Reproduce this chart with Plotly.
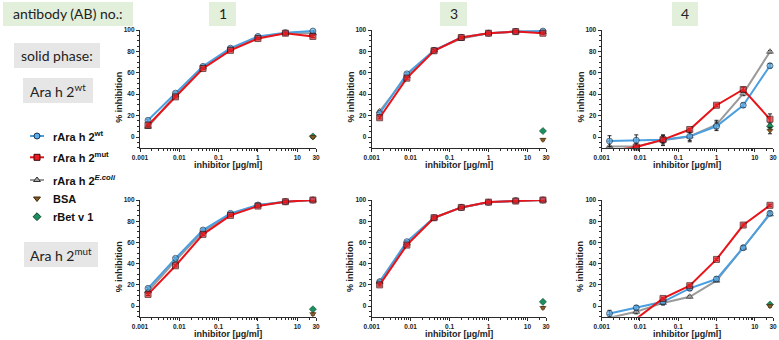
import math
import plotly.graph_objects as go

W, H = 779, 340

# ---------------- data ----------------
conc = [0.0016, 0.008, 0.04, 0.2, 1, 5, 25]
ctrl_conc = [25]

x_tick_vals = [0.001, 0.01, 0.1, 1, 10, 30]
x_tick_text = ["0.001", "0.01", "0.1", "1", "10", "30"]
y_tick_vals = [0, 20, 40, 60, 80, 100]

col_titles = ["1", "3", "4"]

# solid phase Ara h 2wt
ab1_wt_rwt = [15.6, 41, 66, 83, 94, 97.5, 99]
ab1_wt_rmut = [11, 37.5, 64, 81, 92, 97, 94]
ab1_wt_recoli = [9.5, 39, 65, 82, 93, 97, 97]
ab1_wt_bsa = [0]
ab1_wt_bet = [0.5]

ab3_wt_rwt = [22, 59, 81, 93, 97, 98.5, 99]
ab3_wt_rmut = [18, 55, 80.6, 93, 97, 98.5, 97]
ab3_wt_recoli = [24, 57, 81, 92, 97, 98.5, 98]
ab3_wt_bsa = [-2.5]
ab3_wt_bet = [5.6]

ab4_wt_rwt = [-3.8, -3, -2.5, 0.6, 10, 29.7, 66.6]
ab4_wt_rmut = [-13, -9.4, -2.5, 7, 29.7, 44.4, 16.6]
ab4_wt_recoli = [-8.8, -8.8, -3, 0.5, 11.6, 40.6, 79.7]
ab4_wt_bsa = [6]
ab4_wt_bet = [10]

# solid phase Ara h 2mut
ab1_mut_rwt = [16.7, 45, 71.7, 87.4, 95.3, 98.4, 100]
ab1_mut_rmut = [11, 38, 67.6, 85.5, 94.3, 98.4, 100]
ab1_mut_recoli = [14, 43, 70, 86.5, 95, 98.4, 100]
ab1_mut_bsa = [-7.5]
ab1_mut_bet = [-3]

ab3_mut_rwt = [23, 60.7, 83.3, 93, 97.8, 99.4, 100]
ab3_mut_rmut = [20, 57.5, 83.3, 93, 98, 99, 100]
ab3_mut_recoli = [23, 59, 83, 93, 97.8, 99.2, 100]
ab3_mut_bsa = [-1.6]
ab3_mut_bet = [4]

ab4_mut_rwt = [-7, -1.6, 4, 16.7, 25.5, 55, 87.4]
ab4_mut_rmut = [-25, -12, 7.2, 19.2, 44, 76.4, 95]
ab4_mut_recoli = [-11, -5.3, 3, 8.8, 24, 55, 86.5]
ab4_mut_bsa = [0]
ab4_mut_bet = [1.5]

# error bars (SD)
err_small = [1, 1, 1, 1, 1, 1, 1]
ab4_wt_rwt_err = [5, 5, 4, 4, 4, 2, 2]
ab4_wt_rmut_err = [1, 1, 2, 1, 1, 2, 5]
ab4_wt_recoli_err = [5, 3, 5, 5, 4, 2, 1]
ab4_wt_ctrl_err = [3]
ab4_mut_rwt_err = [3, 2, 2, 2, 2, 2, 2]
ab4_mut_rmut_err = [1, 1, 1, 1, 1, 1, 1]
ab4_mut_recoli_err = [3, 2, 2, 1, 1, 1, 1]
ctrl_err_small = [1]

panels = [
    (ab1_wt_rwt, ab1_wt_rmut, ab1_wt_recoli, ab1_wt_bsa, ab1_wt_bet, err_small, err_small, err_small, ctrl_err_small),
    (ab3_wt_rwt, ab3_wt_rmut, ab3_wt_recoli, ab3_wt_bsa, ab3_wt_bet, err_small, err_small, err_small, ctrl_err_small),
    (ab4_wt_rwt, ab4_wt_rmut, ab4_wt_recoli, ab4_wt_bsa, ab4_wt_bet, ab4_wt_rwt_err, ab4_wt_rmut_err, ab4_wt_recoli_err, ab4_wt_ctrl_err),
    (ab1_mut_rwt, ab1_mut_rmut, ab1_mut_recoli, ab1_mut_bsa, ab1_mut_bet, err_small, err_small, err_small, ctrl_err_small),
    (ab3_mut_rwt, ab3_mut_rmut, ab3_mut_recoli, ab3_mut_bsa, ab3_mut_bet, err_small, err_small, err_small, ctrl_err_small),
    (ab4_mut_rwt, ab4_mut_rmut, ab4_mut_recoli, ab4_mut_bsa, ab4_mut_bet, ab4_mut_rwt_err, ab4_mut_rmut_err, ab4_mut_recoli_err, ctrl_err_small),
]

# ---------------- styles ----------------
Y_MIN, Y_MAX = -10, 100
BLUE_LINE, BLUE_FILL, BLUE_EDGE = "#4A9FE0", "#5BAEE8", "#1D3550"
RED_LINE, RED_FILL, RED_EDGE = "#E8141A", "#EE1C22", "#3A0808"
GRAY_LINE, GRAY_FILL, GRAY_EDGE = "#9A9A9A", "#A8A8A8", "#303030"
BSA_FILL, BSA_EDGE = "#8C5A22", "#3A2508"
BET_FILL, BET_EDGE = "#1D8F5E", "#0B3D26"
AXC = "#2A2A2A"
TXT_FONT = "Liberation Sans"
BOX_FONT = "Lato"
MS = 6

col_px = [(140, 316), (371.7, 546), (601.7, 773)]
row_px = [(30, 147.7), (200, 316.7)]


def px_x(x):
    return x / W


def px_y(y):
    return 1 - y / H


fig = go.Figure()
layout = dict(
    width=W, height=H, margin=dict(l=0, r=0, t=0, b=0, autoexpand=False),
    paper_bgcolor="white", plot_bgcolor="rgba(0,0,0,0)", showlegend=False,
    shapes=[], annotations=[],
)

minor_x = [k * 10 ** e for e in range(-3, 1) for k in range(2, 10)] + [20]


def sizes(vals, s):
    return [s if v >= Y_MIN else 0 for v in vals]


def eb(arr):
    return dict(type="data", array=arr, visible=True, color="#222", thickness=1, width=2)


title_font = dict(family=TXT_FONT, size=9, color="#222", weight="bold")
tick_font = dict(family=TXT_FONT, size=6.5, color="#222", weight="bold")

for i, p in enumerate(panels):
    r, c = divmod(i, 3)
    n = i + 1
    xa = "x" if n == 1 else f"x{n}"
    ya = "y" if n == 1 else f"y{n}"
    (x0, x1), (y0, y1) = col_px[c], row_px[r]
    rwt, rmut, recoli, bsa, bet, e_wt, e_mut, e_col, e_ctrl = p

    fig.add_trace(go.Scatter(
        x=conc, y=recoli, mode="lines+markers", xaxis=xa, yaxis=ya, cliponaxis=False,
        line=dict(color=GRAY_LINE, width=2),
        marker=dict(symbol="triangle-up", size=sizes(recoli, MS), color=GRAY_FILL, line=dict(color=GRAY_EDGE, width=1)),
        error_y=eb(e_col)))
    fig.add_trace(go.Scatter(
        x=conc, y=rwt, mode="lines+markers", xaxis=xa, yaxis=ya, cliponaxis=False,
        line=dict(color=BLUE_LINE, width=2),
        marker=dict(symbol="circle", size=sizes(rwt, MS), color=BLUE_FILL, line=dict(color=BLUE_EDGE, width=1)),
        error_y=eb(e_wt)))
    fig.add_trace(go.Scatter(
        x=conc, y=rmut, mode="lines+markers", xaxis=xa, yaxis=ya, cliponaxis=False,
        line=dict(color=RED_LINE, width=2),
        marker=dict(symbol="square", size=sizes(rmut, MS), color=RED_FILL, line=dict(color=RED_EDGE, width=1)),
        error_y=eb(e_mut)))
    fig.add_trace(go.Scatter(
        x=ctrl_conc, y=bet, mode="markers", xaxis=xa, yaxis=ya, cliponaxis=False,
        marker=dict(symbol="diamond", size=5.5, color=BET_FILL, line=dict(color=BET_EDGE, width=0.5)),
        error_y=eb(e_ctrl)))
    fig.add_trace(go.Scatter(
        x=ctrl_conc, y=bsa, mode="markers", xaxis=xa, yaxis=ya, cliponaxis=False,
        marker=dict(symbol="triangle-down", size=5.5, color=BSA_FILL, line=dict(color=BSA_EDGE, width=0.5)),
        error_y=eb(e_ctrl)))

    kx = "xaxis" if n == 1 else f"xaxis{n}"
    ky = "yaxis" if n == 1 else f"yaxis{n}"
    layout[kx] = dict(
        domain=[px_x(x0), px_x(x1)], anchor=ya, type="log",
        range=[-3, math.log10(30)], showgrid=False, zeroline=False,
        showline=True, linecolor=AXC, linewidth=1.3,
        ticks="outside", ticklen=3, tickwidth=1, tickcolor=AXC,
        tickvals=x_tick_vals, ticktext=x_tick_text, tickfont=tick_font,
        minor=dict(tickvals=minor_x, ticks="outside", ticklen=2, tickwidth=0.8, tickcolor=AXC),
        automargin=False,
    )
    layout[ky] = dict(
        domain=[px_y(y1), px_y(y0)], anchor=xa,
        range=[Y_MIN, Y_MAX], showgrid=False, zeroline=False,
        showline=True, linecolor=AXC, linewidth=1.3,
        ticks="outside", ticklen=3, tickwidth=1, tickcolor=AXC,
        tickvals=y_tick_vals, tickfont=tick_font,
        minor=dict(dtick=5, ticks="outside", ticklen=2, tickwidth=0.8, tickcolor=AXC),
        automargin=False,
    )
    layout["annotations"].append(dict(
        text="% inhibition", xref="paper", yref="paper", x=px_x(x0 - 21), y=px_y((y0 + y1) / 2 + 8),
        textangle=-90, showarrow=False, xanchor="center", yanchor="middle", font=title_font))
    layout["annotations"].append(dict(
        text="inhibitor [µg/ml]", xref="paper", yref="paper", x=px_x((x0 + x1) / 2), y=px_y(y1 + 17),
        showarrow=False, xanchor="center", yanchor="middle", font=title_font))

# ---------------- header / side boxes ----------------
GREEN_BOX = "#E2EFDA"
GRAY_BOX = "#E7E6E6"
boxes = [
    ((3, 2, 133, 26), GREEN_BOX, "antibody (AB) no.:", 14),
    ((209, 2, 236, 26), GREEN_BOX, col_titles[0], 14),
    ((440, 2, 467, 26), GREEN_BOX, col_titles[1], 14),
    ((672, 2, 698, 26), GREEN_BOX, col_titles[2], 14),
    ((14, 43, 100, 68), GRAY_BOX, "solid phase:", 14),
    ((23, 78, 93, 103), GRAY_BOX, "Ara h 2<sup>wt</sup>", 14),
    ((24, 242, 98, 267), GRAY_BOX, "Ara h 2<sup>mut</sup>", 14),
]
for (bx0, by0, bx1, by1), col, txt, fs in boxes:
    layout["shapes"].append(dict(
        type="rect", xref="paper", yref="paper", x0=px_x(bx0), x1=px_x(bx1), y0=px_y(by1), y1=px_y(by0),
        fillcolor=col, line=dict(width=0), layer="below"))
    layout["annotations"].append(dict(
        text=txt, xref="paper", yref="paper", x=px_x((bx0 + bx1) / 2), y=px_y((by0 + by1) / 2),
        showarrow=False, xanchor="center", yanchor="middle",
        font=dict(family=BOX_FONT, size=fs, color="#222")))

# ---------------- legend (manual) ----------------
legend_items = [
    ("rAra h 2<sup>wt</sup>", "circle", BLUE_FILL, BLUE_EDGE, BLUE_LINE, 136),
    ("rAra h 2<sup>mut</sup>", "square", RED_FILL, RED_EDGE, RED_LINE, 157.3),
    ("rAra h 2<sup><i>E.coli</i></sup>", "triangle-up", GRAY_FILL, GRAY_EDGE, GRAY_LINE, 180),
    ("BSA", "triangle-down", BSA_FILL, BSA_EDGE, None, 198.5),
    ("rBet v 1", "diamond", BET_FILL, BET_EDGE, None, 216.7),
]
layout["xaxis7"] = dict(domain=[0, 1], range=[0, W], visible=False, anchor="y7", fixedrange=True)
layout["yaxis7"] = dict(domain=[0, 1], range=[H, 0], visible=False, anchor="x7", fixedrange=True)
for txt, sym, fill, edge, lc, yy in legend_items:
    if lc:
        fig.add_trace(go.Scatter(x=[30, 44], y=[yy, yy], mode="lines", xaxis="x7", yaxis="y7",
                                 line=dict(color=lc, width=2), hoverinfo="skip"))
    fig.add_trace(go.Scatter(x=[37], y=[yy], mode="markers", xaxis="x7", yaxis="y7",
                             marker=dict(symbol=sym, size=MS if lc else 6, color=fill, line=dict(color=edge, width=1)),
                             hoverinfo="skip"))
    layout["annotations"].append(dict(
        text=txt, xref="paper", yref="paper", x=px_x(51), y=px_y(yy), showarrow=False,
        xanchor="left", yanchor="middle",
        font=dict(family=TXT_FONT, size=11, color="#111", weight="bold")))

fig.update_layout(**layout)
fig.write_html("out.html")
